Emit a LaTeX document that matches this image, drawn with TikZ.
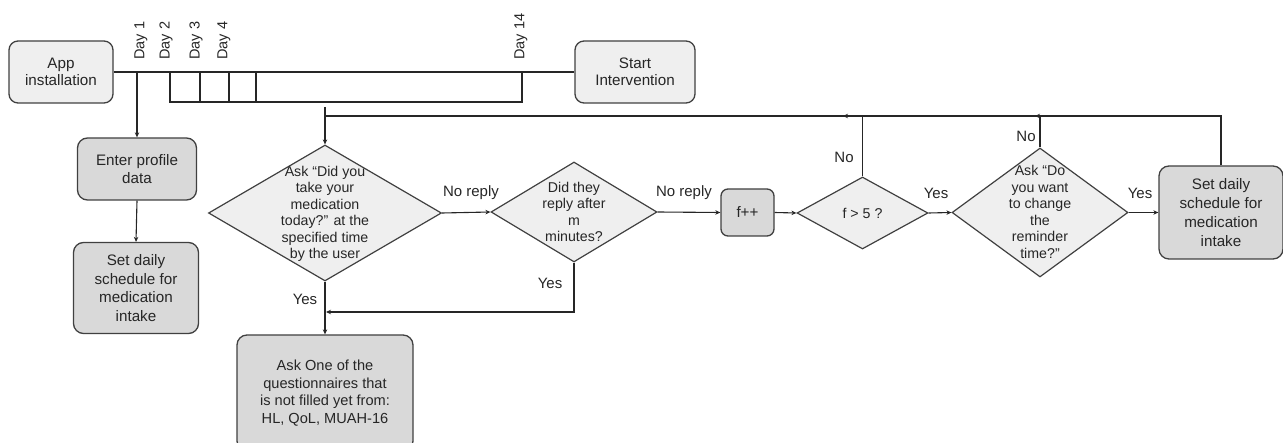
\documentclass[tikz,border=0pt]{standalone}
\usepackage{fontspec}
\setmainfont{Liberation Sans}
\usetikzlibrary{shapes.geometric,arrows.meta}
\definecolor{lightfill}{HTML}{EFEFEF}
\definecolor{darkfill}{HTML}{D9D9D9}
\definecolor{edgecol}{HTML}{404040}
\definecolor{txtcol}{HTML}{262626}
\tikzset{
  boxlight/.style={draw=edgecol,line width=1.3pt,fill=lightfill,rounded corners=9pt,inner sep=0pt,align=center,text=txtcol,font=\fontsize{15.2}{17.5}\selectfont},
  boxdark/.style={draw=edgecol,line width=1.3pt,fill=darkfill,rounded corners=10pt,inner sep=0pt,align=center,text=txtcol,font=\fontsize{15.2}{18.8}\selectfont},
  dia/.style={diamond,draw=edgecol,line width=1.2pt,fill=lightfill,inner sep=0pt},
  diatext/.style={align=center,text=txtcol,inner sep=0pt,font=\fontsize{14.2}{16.5}\selectfont},
  lbl/.style={text=txtcol,inner sep=0pt,font=\fontsize{15}{17}\selectfont},
  daylbl/.style={text=txtcol,inner sep=0pt,rotate=90,anchor=west,font=\fontsize{14.5}{16}\selectfont},
  conn/.style={draw=txtcol,line width=1.1pt},
  arr/.style={conn,-{Stealth[length=5pt,width=4.5pt]}},
}
\begin{document}
\begin{tikzpicture}[x=1pt,y=-1pt]
\useasboundingbox (0,0) rectangle (1283,443);
\clip (0,0) rectangle (1283,443);
% boxes
\node[boxlight,minimum width=104pt,minimum height=62pt] (app) at (61,72) {App\\installation};
\node[boxlight,minimum width=120pt,minimum height=62pt] (start) at (635,72) {Start\\Intervention};
\node[boxdark,minimum width=119pt,minimum height=62pt] (profile) at (137,169) {Enter profile\\data};
\node[boxdark,minimum width=125pt,minimum height=91pt] (sched1) at (136,288) {Set daily\\schedule for\\medication\\intake};
\node[boxdark,minimum width=176pt,minimum height=116pt,font=\fontsize{14.6}{17.7}\selectfont] (ask) at (325,393) {Ask One of the\\questionnaires that\\is not filled yet from:\\HL, QoL, MUAH-16};
\node[boxdark,minimum width=53pt,minimum height=47pt,rounded corners=7pt] (fpp) at (747.5,212.5) {f++};
\node[boxdark,minimum width=124pt,minimum height=93pt] (sched2) at (1221,212.5) {Set daily\\schedule for\\medication\\intake};
% diamonds
\node[dia,minimum width=233pt,minimum height=136pt] (d1) at (325,213) {};
\node[diatext] (d1t) at (325,214) {Ask “Did you\\take your\\medication\\today?” at the\\specified time\\by the user};
\node[dia,minimum width=166pt,minimum height=100pt] (d2) at (574,212) {};
\node[diatext] (d2t) at (574,212) {Did they\\reply after\\m\\minutes?};
\node[dia,minimum width=131pt,minimum height=72pt] (d3) at (862.5,213) {};
\node[diatext] (d3t) at (862.5,213) {f > 5 ?};
\node[dia,minimum width=176pt,minimum height=129pt] (d4) at (1040,212.5) {};
\node[diatext] (d4t) at (1040,212) {Ask “Do\\you want\\to change\\the\\reminder\\time?”};
% timeline
\draw[conn] (app.east) -- (start.west);
\draw[conn] (170,72) -- (170,102) -- (522,102) -- (522,72);
\draw[conn] (200,72) -- (200,102);
\draw[conn] (229,72) -- (229,102);
\draw[conn] (256,72) -- (256,102);
\node[daylbl] (day1) at (141,60) {Day 1};
\node[daylbl] (day2) at (166,60) {Day 2};
\node[daylbl] (day3) at (196,60) {Day 3};
\node[daylbl] (day4) at (224,60) {Day 4};
\node[daylbl] (day14) at (521,60) {Day 14};
\coordinate (dayone) at (137,72);
\draw[arr] (dayone) -- (profile.north);
\draw[arr] (profile.south) -- (sched1.north);
% loop
\coordinate (loop) at (325,116);
\coordinate (stub) at (325,107);
\coordinate (noA) at (843,116);
\coordinate (noB) at (1035,116);
\draw[conn] (stub) -- (loop);
\draw[arr] (d3.north) |- (loop) -- (d1.north);
\draw[arr] (d4.north) |- (noA);
\draw[arr] (sched2.north) |- (noB);
% main flow
\draw[arr] (d1.east) -- (d2.west);
\draw[arr] (d2.east) -- (fpp.west);
\draw[arr] (fpp.east) -- (d3.west);
\draw[arr] (d3.east) -- (d4.west);
\draw[arr] (d4.east) -- (sched2.west);
\draw[arr] (d1.south) -- (ask.north);
\coordinate (join) at (326,312);
\draw[arr] (d2.south) |- (join);
% labels
\node[lbl] (l1) at (471,193) {No reply};
\node[lbl] (l2) at (684,193) {No reply};
\node[lbl] (l3) at (936,193) {Yes};
\node[lbl] (l4) at (1140,193) {Yes};
\node[lbl] (l5) at (844,157) {No};
\node[lbl] (l6) at (1026,136) {No};
\node[lbl] (l7) at (305,299) {Yes};
\node[lbl] (l8) at (550,283) {Yes};
\end{tikzpicture}
\end{document}
